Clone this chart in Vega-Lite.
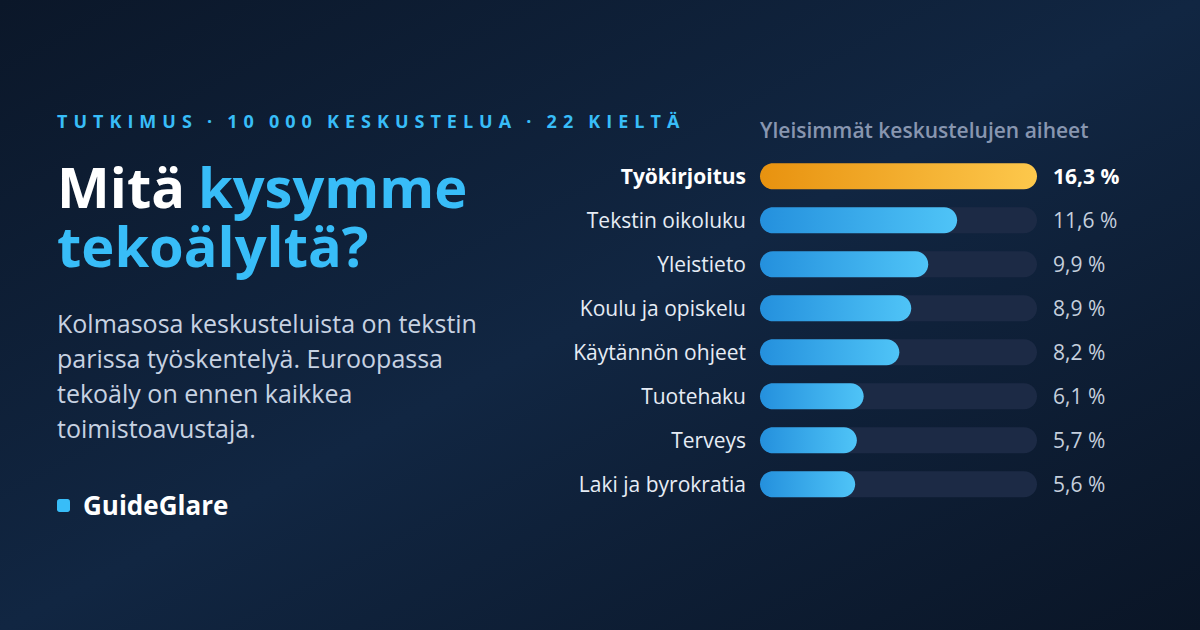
{
  "$schema": "https://vega.github.io/schema/vega-lite/v6.json",
  "width": 1200,
  "height": 630,
  "autosize": {"type": "fit", "contains": "padding"},
  "padding": 0,
  "background": "#0e1c33",
  "config": {"view": {"stroke": null}, "font": "Open Sans"},
  "datasets": {
    "topics": [
      {"topic": "Työkirjoitus", "value": 16.3},
      {"topic": "Tekstin oikoluku", "value": 11.6},
      {"topic": "Yleistieto", "value": 9.9},
      {"topic": "Koulu ja opiskelu", "value": 8.9},
      {"topic": "Käytännön ohjeet", "value": 8.2},
      {"topic": "Tuotehaku", "value": 6.1},
      {"topic": "Terveys", "value": 5.7},
      {"topic": "Laki ja byrokratia", "value": 5.6}
    ],
    "one": [{}]
  },
  "data": {"name": "topics"},
  "transform": [
    {"joinaggregate": [{"op": "max", "field": "value", "as": "maxv"}]},
    {"calculate": "replace(format(datum.value, '.1f'), '.', ',') + ' %'", "as": "label"}
  ],
  "layer": [
    {
      "data": {"name": "one"},
      "mark": {
        "type": "rect",
        "fill": {
          "gradient": "linear", "x1": 0, "y1": 0, "x2": 1, "y2": 1,
          "stops": [
            {"offset": 0, "color": "#0b1729"},
            {"offset": 0.5, "color": "#112642"},
            {"offset": 1, "color": "#0a1526"}
          ]
        }
      },
      "encoding": {
        "x": {"value": 0}, "x2": {"value": "width"},
        "y": {"value": 0}, "y2": {"value": "height"}
      }
    },
    {
      "mark": {"type": "bar", "color": "#1c2a45", "cornerRadius": 13},
      "encoding": {
        "y": {"field": "topic", "type": "nominal", "sort": null, "axis": null,
              "scale": {"range": [163.3, 497.3], "paddingInner": 0.409, "paddingOuter": 0}},
        "x": {"field": "maxv", "type": "quantitative", "axis": null,
              "scale": {"domain": [-44.72, 25.89], "nice": false, "zero": false}},
        "x2": {"datum": 0}
      }
    },
    {
      "transform": [{"filter": "datum.value == datum.maxv"}],
      "mark": {
        "type": "bar", "cornerRadius": 13,
        "color": {"gradient": "linear", "x1": 0, "y1": 0, "x2": 1, "y2": 0,
                  "stops": [{"offset": 0, "color": "#e8920f"}, {"offset": 1, "color": "#fdc84c"}]}
      },
      "encoding": {
        "y": {"field": "topic", "type": "nominal", "sort": null, "axis": null},
        "x": {"field": "value", "type": "quantitative", "axis": null},
        "x2": {"datum": 0}
      }
    },
    {
      "transform": [{"filter": "datum.value < datum.maxv"}],
      "mark": {
        "type": "bar", "cornerRadius": 13,
        "color": {"gradient": "linear", "x1": 0, "y1": 0, "x2": 1, "y2": 0,
                  "stops": [{"offset": 0, "color": "#2490dd"}, {"offset": 1, "color": "#4fc4f7"}]}
      },
      "encoding": {
        "y": {"field": "topic", "type": "nominal", "sort": null, "axis": null},
        "x": {"field": "value", "type": "quantitative", "axis": null},
        "x2": {"datum": 0}
      }
    },
    {
      "transform": [{"filter": "datum.value == datum.maxv"}],
      "mark": {"type": "text", "align": "right", "baseline": "middle", "dx": -14, "dy": 2,
               "fontSize": 21, "fontWeight": "bold", "color": "#ffffff"},
      "encoding": {
        "y": {"field": "topic", "type": "nominal", "sort": null, "axis": null},
        "x": {"datum": 0, "type": "quantitative"},
        "text": {"field": "topic"}
      }
    },
    {
      "transform": [{"filter": "datum.value < datum.maxv"}],
      "mark": {"type": "text", "align": "right", "baseline": "middle", "dx": -14, "dy": 2,
               "fontSize": 21, "color": "#e6ecf5"},
      "encoding": {
        "y": {"field": "topic", "type": "nominal", "sort": null, "axis": null},
        "x": {"datum": 0, "type": "quantitative"},
        "text": {"field": "topic"}
      }
    },
    {
      "transform": [{"filter": "datum.value == datum.maxv"}],
      "mark": {"type": "text", "align": "left", "baseline": "middle", "dx": 16, "dy": 2,
               "fontSize": 21, "fontWeight": "bold", "color": "#ffffff"},
      "encoding": {
        "y": {"field": "topic", "type": "nominal", "sort": null, "axis": null},
        "x": {"field": "maxv", "type": "quantitative"},
        "text": {"field": "label"}
      }
    },
    {
      "transform": [{"filter": "datum.value < datum.maxv"}],
      "mark": {"type": "text", "align": "left", "baseline": "middle", "dx": 16, "dy": 2,
               "fontSize": 21, "color": "#c5cfdd"},
      "encoding": {
        "y": {"field": "topic", "type": "nominal", "sort": null, "axis": null},
        "x": {"field": "maxv", "type": "quantitative"},
        "text": {"field": "label"}
      }
    },
    {
      "data": {"name": "one"},
      "mark": {"type": "text", "text": "Yleisimmät keskustelujen aiheet", "align": "left",
               "baseline": "alphabetic", "y": 138, "fontSize": 21, "fontWeight": 600, "color": "#8896b0"},
      "encoding": {"x": {"datum": 0, "type": "quantitative"}}
    },
    {
      "data": {"name": "one"},
      "mark": {"type": "text", "text": "T\u2004U\u2004T\u2004K\u2004I\u2004M\u2004U\u2004S\u2005 \u2004·\u2005 \u20041\u20040\u2005 \u20040\u20040\u20040\u2005 \u2004K\u2004E\u2004S\u2004K\u2004U\u2004S\u2004T\u2004E\u2004L\u2004U\u2004A\u2005 \u2004·\u2005 \u20042\u20042\u2005 \u2004K\u2004I\u2004E\u2004L\u2004T\u2004Ä",
               "align": "left", "baseline": "alphabetic", "x": 57, "y": 128,
               "fontSize": 18, "fontWeight": "bold", "color": "#38bdf8"},
      "encoding": {}
    },
    {
      "data": {"name": "one"},
      "mark": {"type": "text", "text": "Mitä", "align": "left", "baseline": "alphabetic",
               "x": 57, "y": 208, "fontSize": 56, "fontWeight": "bold", "color": "#ffffff"},
      "encoding": {}
    },
    {
      "data": {"name": "one"},
      "mark": {"type": "text", "text": "kysymme", "align": "left", "baseline": "alphabetic",
               "x": 198, "y": 208, "fontSize": 56, "fontWeight": "bold", "color": "#38bdf8"},
      "encoding": {}
    },
    {
      "data": {"name": "one"},
      "mark": {"type": "text", "text": "tekoälyltä?", "align": "left", "baseline": "alphabetic",
               "x": 57, "y": 267, "fontSize": 56, "fontWeight": "bold", "color": "#38bdf8"},
      "encoding": {}
    },
    {
      "data": {"name": "one"},
      "mark": {"type": "text",
               "text": ["Kolmasosa keskusteluista on tekstin", "parissa työskentelyä. Euroopassa", "tekoäly on ennen kaikkea", "toimistoavustaja."],
               "align": "left", "baseline": "alphabetic", "lineHeight": 35,
               "x": 57, "y": 333, "fontSize": 25, "color": "#c7d2e2"},
      "encoding": {}
    },
    {
      "data": {"name": "one"},
      "mark": {"type": "rect", "x": 57, "x2": 70, "y": 499, "y2": 512, "cornerRadius": 2.5, "color": "#38bdf8"},
      "encoding": {}
    },
    {
      "data": {"name": "one"},
      "mark": {"type": "text", "text": "GuideGlare", "align": "left", "baseline": "alphabetic",
               "x": 83, "y": 515, "fontSize": 26, "fontWeight": "bold", "color": "#ffffff"},
      "encoding": {}
    }
  ]
}
